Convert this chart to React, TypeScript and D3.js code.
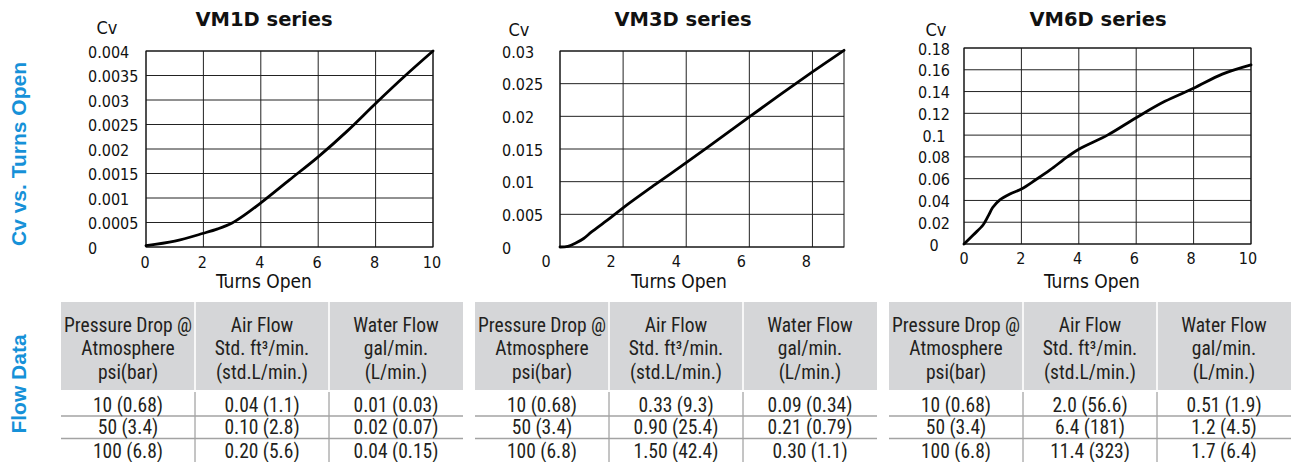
import React from 'react';
import * as d3 from 'd3';

// ---------- DATA ----------
const vm1dTurns = [0, 1, 2, 2.5, 3, 3.5, 4, 5, 6, 7, 8, 9, 10];
const vm1dCv = [0.00003, 0.00012, 0.00028, 0.00037, 0.00049, 0.00068, 0.0009, 0.00137, 0.00184, 0.00236, 0.00293, 0.00348, 0.004];

const vm3dTurns = [0, 0.25, 0.5, 0.75, 1, 1.5, 2, 3, 4, 5, 6, 7, 8, 9];
const vm3dCv = [0, 0.0001, 0.0006, 0.0013, 0.0023, 0.0041, 0.006, 0.0095, 0.0129, 0.0164, 0.0199, 0.0234, 0.0268, 0.0301];

const vm6dTurns = [0, 0.33, 0.67, 0.85, 1, 1.25, 1.6, 2, 2.5, 3, 3.6, 4, 5, 6, 7, 8, 9, 10];
const vm6dCv = [0, 0.0085, 0.0177, 0.026, 0.0335, 0.0405, 0.046, 0.0505, 0.059, 0.068, 0.08, 0.087, 0.1, 0.116, 0.131, 0.143, 0.156, 0.1645];

const vm1dYTicks = [0, 0.0005, 0.001, 0.0015, 0.002, 0.0025, 0.003, 0.0035, 0.004];
const vm3dYTicks = [0, 0.005, 0.01, 0.015, 0.02, 0.025, 0.03];
const vm6dYTicks = [0, 0.02, 0.04, 0.06, 0.08, 0.1, 0.12, 0.14, 0.16, 0.18];
const xTicksTen = [0, 2, 4, 6, 8, 10];
const xTicksNine = [0, 2, 4, 6, 8];

const seriesTitles = ['VM1D series', 'VM3D series', 'VM6D series'];

const headerLines = [
  ['Pressure Drop @', 'Atmosphere', 'psi(bar)'],
  ['Air Flow', 'Std. ft\u00B3/min.', '(std.L/min.)'],
  ['Water Flow', 'gal/min.', '(L/min.)'],
];
const pressureDrop = ['10 (0.68)', '50 (3.4)', '100 (6.8)'];
const vm1dAir = ['0.04 (1.1)', '0.10 (2.8)', '0.20 (5.6)'];
const vm1dWater = ['0.01 (0.03)', '0.02 (0.07)', '0.04 (0.15)'];
const vm3dAir = ['0.33 (9.3)', '0.90 (25.4)', '1.50 (42.4)'];
const vm3dWater = ['0.09 (0.34)', '0.21 (0.79)', '0.30 (1.1)'];
const vm6dAir = ['2.0 (56.6)', '6.4 (181)', '11.4 (323)'];
const vm6dWater = ['0.51 (1.9)', '1.2 (4.5)', '1.7 (6.4)'];

// ---------- STYLE / LAYOUT ----------
const TICK_FONT = "'DejaVu Sans Condensed', 'DejaVu Sans', sans-serif";
const TITLE_FONT = "'DejaVu Sans', sans-serif";
const TABLE_FONT = "'Liberation Sans Narrow', 'Roboto Condensed', Roboto, sans-serif";
const SIDE_FONT = "'Liberation Sans', Arial, sans-serif";
const BLUE = '#1691d8';
const INK = '#231f20';

const chartLayouts = [
  { l: 146, r: 433, t: 51, b: 247, xMax: 10, yMax: 0.004, titleX: 264, cvX: 107, cvY: 27, yLabelX: 88, yAnchor: 'start', labelL: 145, labelR: 432, xTitleX: 264, xLabelY: 262 },
  { l: 560, r: 844, t: 51, b: 247, xMax: 9, yMax: 0.03, titleX: 683, cvX: 519, cvY: 29, yLabelX: 502, yAnchor: 'start', labelL: 546, labelR: 839, xTitleX: 679, xLabelY: 261 },
  { l: 964, r: 1251, t: 48, b: 244, xMax: 10, yMax: 0.18, titleX: 1098, cvX: 936, cvY: 29, yLabelX: 934, yAnchor: 'middle', labelL: 964, labelR: 1248, xTitleX: 1092, xLabelY: 258 },
];

const chartData = [
  { turns: vm1dTurns, cv: vm1dCv, yTicks: vm1dYTicks, xTicks: xTicksTen },
  { turns: vm3dTurns, cv: vm3dCv, yTicks: vm3dYTicks, xTicks: xTicksNine },
  { turns: vm6dTurns, cv: vm6dCv, yTicks: vm6dYTicks, xTicks: xTicksTen },
];

const tableCols = [
  [pressureDrop, vm1dAir, vm1dWater],
  [pressureDrop, vm3dAir, vm3dWater],
  [pressureDrop, vm6dAir, vm6dWater],
];
const tableX = [61, 475, 889];
const TABLE_W = 402;

function Chart({ idx }: { idx: number }) {
  const L = chartLayouts[idx];
  const D = chartData[idx];
  const x = d3.scaleLinear().domain([0, L.xMax]).range([L.l, L.r]);
  const xl = d3.scaleLinear().domain([0, L.xMax]).range([L.labelL, L.labelR]);
  const y = d3.scaleLinear().domain([0, L.yMax]).range([L.b, L.t]);
  const pts: [number, number][] = D.turns.map((t, i) => [t, D.cv[i]]);
  const line = d3
    .line<[number, number]>()
    .x((d) => x(d[0]))
    .y((d) => y(d[1]))
    .curve(d3.curveCatmullRom.alpha(0.5));
  return (
    <g>
      <text x={L.titleX} y={19} textAnchor="middle" dominantBaseline="central" fontFamily={TITLE_FONT} fontWeight="bold" fontSize={19.5} fill="#111">
        {seriesTitles[idx]}
      </text>
      <text x={L.cvX} y={L.cvY} textAnchor="middle" dominantBaseline="central" fontFamily={TICK_FONT} fontSize={18} fill="#111">
        Cv
      </text>
      {D.yTicks.map((v) => (
        <line key={'gy' + v} x1={L.l} x2={L.r} y1={y(v)} y2={y(v)} stroke="#222" strokeWidth={1} />
      ))}
      {D.xTicks.map((v) => (
        <line key={'gx' + v} x1={x(v)} x2={x(v)} y1={L.t} y2={L.b} stroke="#222" strokeWidth={1} />
      ))}
      <rect x={L.l} y={L.t} width={L.r - L.l} height={L.b - L.t} fill="none" stroke="#111" strokeWidth={1} />
      {D.yTicks.map((v) => (
        <text key={'ty' + v} x={L.yLabelX} y={y(v) + 1} textAnchor={L.yAnchor as any} dominantBaseline="central" fontFamily={TICK_FONT} fontSize={16} fill="#111">
          {String(v)}
        </text>
      ))}
      {D.xTicks.map((v) => (
        <text key={'tx' + v} x={xl(v)} y={L.xLabelY} textAnchor="middle" dominantBaseline="central" fontFamily={TICK_FONT} fontSize={16} fill="#111">
          {String(v)}
        </text>
      ))}
      <text x={L.xTitleX} y={281} textAnchor="middle" dominantBaseline="central" fontFamily={TICK_FONT} fontSize={19} fill="#111">
        Turns Open
      </text>
      <path d={line(pts) || ''} fill="none" stroke="#000" strokeWidth={2.8} strokeLinejoin="round" strokeLinecap="round" />
    </g>
  );
}

function FlowTable({ idx }: { idx: number }) {
  const x0 = tableX[idx];
  const cols = tableCols[idx];
  const cx = d3.scaleBand<number>().domain([0, 1, 2]).range([x0, x0 + TABLE_W]);
  const headerY = [325, 348.5, 372];
  const rowY = [405, 427.5, 451.5];
  const rowLines = [416, 438.5];
  const cw = cx.bandwidth();
  return (
    <g>
      {[0, 1, 2].map((c) => (
        <rect key={'h' + c} x={cx(c)! + (c > 0 ? 0.8 : 0)} y={302} width={cw - (c > 0 ? 0.8 : 0) - (c < 2 ? 0.8 : 0)} height={88} fill="#d5d6d8" />
      ))}
      {[1, 2].map((c) => (
        <line key={'v' + c} x1={cx(c)!} x2={cx(c)!} y1={392} y2={462} stroke="#8a8a8a" strokeWidth={1} />
      ))}
      {rowLines.map((ry) => (
        <line key={'r' + ry} x1={x0} x2={x0 + TABLE_W} y1={ry} y2={ry} stroke="#a3a3a3" strokeWidth={1.5} />
      ))}
      {headerLines.map((lines, c) =>
        lines.map((t, k) => (
          <text key={'ht' + c + k} x={cx(c)! + cw / 2} y={headerY[k]} textAnchor="middle" dominantBaseline="central" fontFamily={TABLE_FONT} fontSize={19.5} fill={INK}>
            {t}
          </text>
        ))
      )}
      {cols.map((col, c) =>
        col.map((t, r) => (
          <text key={'bt' + c + r} x={cx(c)! + cw / 2} y={rowY[r]} textAnchor="middle" dominantBaseline="central" fontFamily={TABLE_FONT} fontSize={19.5} fill={INK}>
            {t}
          </text>
        ))
      )}
    </g>
  );
}

export default function App() {
  return (
    <svg width={1294} height={462} style={{ position: 'absolute', left: 0, top: 0, background: '#fff' }}>
      <rect x={0} y={0} width={1294} height={462} fill="#fff" />
      <text transform="translate(18,154) rotate(-90)" textAnchor="middle" dominantBaseline="central" fontFamily={SIDE_FONT} fontWeight="bold" fontSize={21} fill={BLUE}>
        Cv vs. Turns Open
      </text>
      <text transform="translate(18,384) rotate(-90)" textAnchor="middle" dominantBaseline="central" fontFamily={SIDE_FONT} fontWeight="bold" fontSize={21} fill={BLUE}>
        Flow Data
      </text>
      {[0, 1, 2].map((i) => (
        <Chart key={'c' + i} idx={i} />
      ))}
      {[0, 1, 2].map((i) => (
        <FlowTable key={'t' + i} idx={i} />
      ))}
    </svg>
  );
}
